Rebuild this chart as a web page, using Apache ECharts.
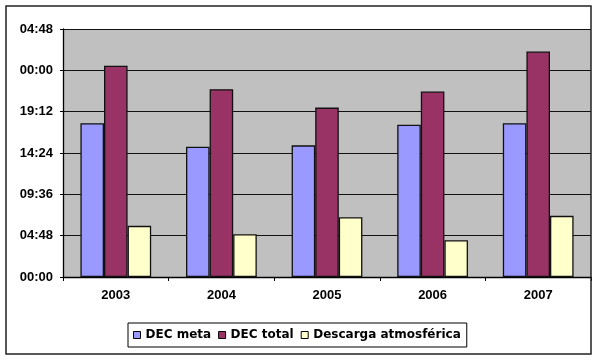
<!DOCTYPE html>
<html>
<head>
<meta charset="utf-8">
<script src="https://cdn.jsdelivr.net/npm/echarts@6/dist/echarts.min.js"></script>
<style>
html,body{margin:0;padding:0;background:#fff;}
#c{width:600px;height:362px;}
</style>
</head>
<body>
<div id="c"></div>
<script>
// Values in hours (axis shows HH:MM, wrapping at 24h)
var categories = ['2003', '2004', '2005', '2006', '2007'];
var decMeta = [17.86, 15.13, 15.29, 17.69, 17.86];
var decTotal = [24.53, 21.81, 19.67, 21.54, 26.19];
var descarga = [5.94, 4.97, 6.95, 4.27, 7.10];
var seriesNames = ['DEC meta', 'DEC total', 'Descarga atmosférica'];

function fmt(v) {
  var m = Math.round(v * 60);
  var h = Math.floor(m / 60) % 24;
  var mm = m % 60;
  return (h < 10 ? '0' : '') + h + ':' + (mm < 10 ? '0' : '') + mm;
}

var chart = echarts.init(document.getElementById('c'), null, {renderer: 'canvas'});
var barStyle = function (c) { return {color: c, borderColor: '#111', borderWidth: 1.3}; };
chart.setOption({
  animation: false,
  backgroundColor: '#fff',
  grid: {left: 63, right: 9, top: 29, bottom: 85, backgroundColor: '#C0C0C0', show: true, borderWidth: 0},
  legend: {
    left: 128, top: 323,
    itemWidth: 7, itemHeight: 7, itemGap: 7,
    padding: [6, 6, 6, 5],
    borderColor: '#000', borderWidth: 1,
    icon: 'rect',
    textStyle: {fontFamily: 'DejaVu Sans', fontWeight: 'bold', fontSize: 12, color: '#000'},
    data: seriesNames.map(function (n) { return {name: n, itemStyle: {borderColor: '#000', borderWidth: 1}}; })
  },
  xAxis: {
    type: 'category', data: categories,
    axisLine: {lineStyle: {color: '#000', width: 1.3}},
    axisTick: {show: true, length: 4, lineStyle: {color: '#000'}},
    axisLabel: {fontFamily: 'Liberation Sans, Arial, sans-serif', fontWeight: 'bold', fontSize: 13, color: '#000', margin: 12},
    splitLine: {show: false}
  },
  yAxis: {
    type: 'value', min: 0, max: 28.8, interval: 4.8,
    axisLine: {show: true, lineStyle: {color: '#000', width: 1.3}},
    axisTick: {show: true, length: 3, lineStyle: {color: '#000'}},
    axisLabel: {formatter: fmt, fontFamily: 'Liberation Sans, Arial, sans-serif', fontWeight: 'bold', fontSize: 13, color: '#000', margin: 10},
    splitLine: {show: true, lineStyle: {color: '#111', width: 1.2}}
  },
  series: [
    {name: seriesNames[0], type: 'bar', data: decMeta, barGap: '0%', barCategoryGap: '33%', itemStyle: barStyle('#9999FF')},
    {name: seriesNames[1], type: 'bar', data: decTotal, barGap: '0%', barCategoryGap: '33%', itemStyle: barStyle('#993366')},
    {name: seriesNames[2], type: 'bar', data: descarga, barGap: '0%', barCategoryGap: '33%', itemStyle: barStyle('#FFFFCC')}
  ],
  graphic: [
    {type: 'rect', shape: {x: 6, y: 6, width: 585, height: 348}, style: {fill: 'none', stroke: '#222', lineWidth: 1.5}, z: 100}
  ]
});
</script>
</body>
</html>
